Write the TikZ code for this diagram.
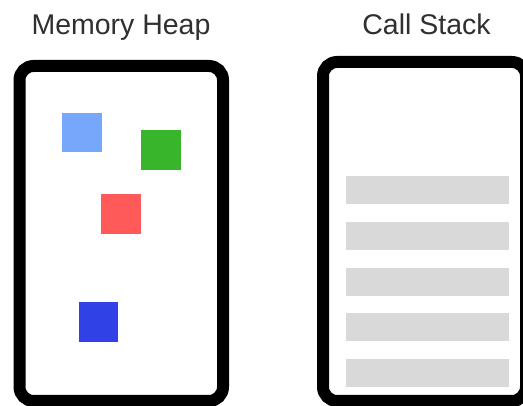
\documentclass[tikz,border=0pt]{standalone}
\usepackage{fontspec}
\setmainfont{Liberation Sans}
\definecolor{txt}{HTML}{303030}
\definecolor{lblue}{HTML}{76A7FA}
\definecolor{dgreen}{HTML}{38B52B}
\definecolor{lred}{HTML}{FF5A5A}
\definecolor{dblue}{HTML}{3041E6}
\definecolor{bargray}{HTML}{D9D9D9}
\begin{document}
\begin{tikzpicture}[x=1pt,y=-1pt,
  frame/.style={draw=black,line width=12pt,rounded corners=14pt,fill=white},
  title/.style={font=\fontsize{28.5}{31}\selectfont,text=txt,inner sep=0pt,anchor=base},
  obj/.style={inner sep=0pt,minimum width=39.5pt,minimum height=39.5pt,anchor=north west},
  bar/.style={fill=bargray,inner sep=0pt,minimum width=163pt,minimum height=27.5pt,anchor=north west}]
\useasboundingbox (0,0) rectangle (523,406);
\clip (0,0) rectangle (523,406);
\fill[white] (0,0) rectangle (523,406);
\node[title] (heapt) at (121,34.5) {Memory Heap};
\node[title] (stackt) at (426.5,34.5) {Call Stack};
\draw[frame] (19.5,66) rectangle (223,401);
\draw[frame] (323,62) rectangle (526,401);
\node[obj,fill=lblue] (o1) at (62,112.5) {};
\node[obj,fill=dgreen] (o2) at (141,130) {};
\node[obj,fill=lred] (o3) at (101,194) {};
\node[obj,fill=dblue] (o4) at (78.5,302) {};
\node[bar] (b1) at (345.5,176) {};
\node[bar] (b2) at (345.5,222) {};
\node[bar] (b3) at (346,268) {};
\node[bar] (b4) at (345.5,313) {};
\node[bar] (b5) at (345.5,359) {};
\end{tikzpicture}
\end{document}
